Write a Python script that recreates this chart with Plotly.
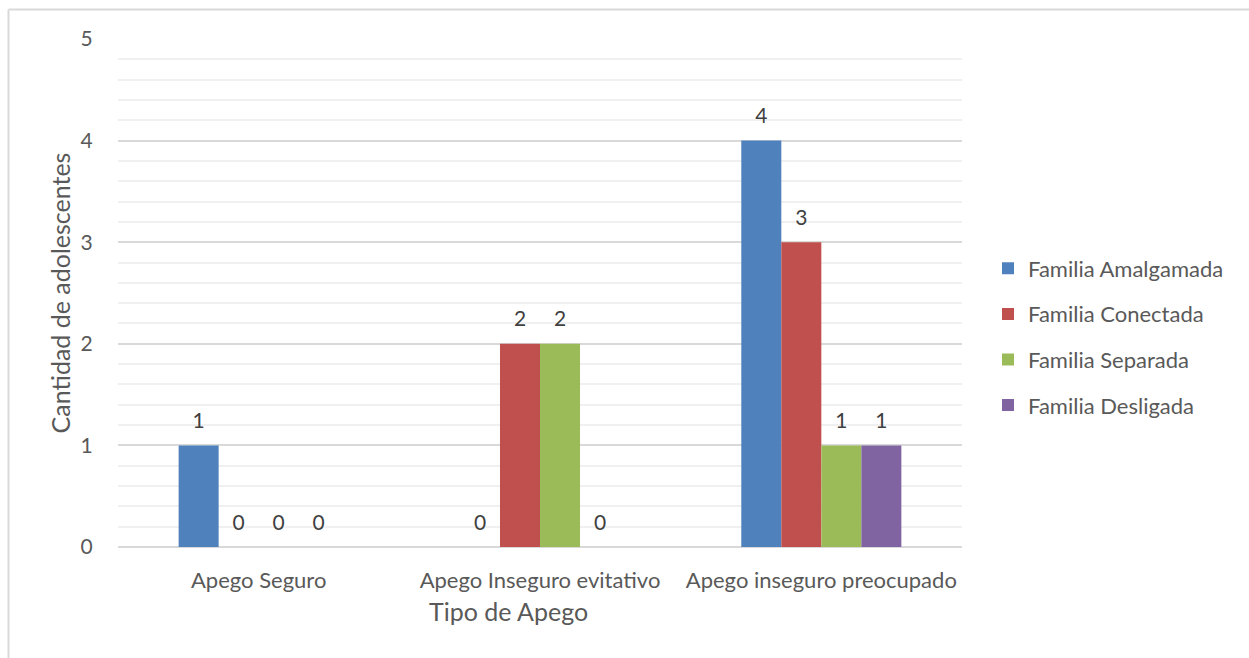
import plotly.graph_objects as go

categories = ["Apego Seguro", "Apego Inseguro evitativo", "Apego inseguro preocupado"]
series_names = ["Familia Amalgamada", "Familia Conectada", "Familia Separada", "Familia Desligada"]
amalgamada = [1, 0, 4]
conectada = [0, 2, 3]
separada = [0, 2, 1]
desligada = [0, 0, 1]
series_values = [amalgamada, conectada, separada, desligada]
colors = ["#4F81BD", "#C0504D", "#9BBB59", "#8064A2"]

FONT = "Lato, 'Open Sans', sans-serif"
W, H = 1249, 658
L, R, T, B = 118, 287, 39, 111
pw, ph = W - L - R, H - T - B

fig = go.Figure()
for i, (name, vals, col) in enumerate(zip(series_names, series_values, colors)):
    fig.add_trace(go.Bar(
        x=categories, y=vals, name=name, marker_color=col,
        marker_line_width=0, offsetgroup=str(i), legendgroup=str(i),
        hoverinfo="skip",
    ))
# value labels above each bar
for i, vals in enumerate(series_values):
    fig.add_trace(go.Scatter(
        x=categories, y=vals, mode="markers+text", text=[str(v) for v in vals],
        textposition="top center", offsetgroup=str(i), showlegend=False,
        marker=dict(size=18, color="rgba(0,0,0,0)"),
        textfont=dict(family=FONT, size=21, color="#404040"),
        cliponaxis=False, hoverinfo="skip",
    ))

def px_x(p):
    return (p - L) / pw

def px_y(p):
    return (H - B - p) / ph

fig.update_layout(
    width=W, height=H,
    margin=dict(l=L, r=R, t=T, b=B, autoexpand=False),
    paper_bgcolor="white", plot_bgcolor="white",
    barmode="group", bargap=0.431, bargroupgap=0,
    scattermode="group", scattergap=0.431,
    font=dict(family=FONT, color="#595959"),
    legend=dict(
        x=px_x(988), y=px_y(337), xanchor="left", yanchor="middle",
        font=dict(family=FONT, size=22, color="#595959"),
        traceorder="grouped", tracegroupgap=14, itemwidth=30,
        bgcolor="rgba(0,0,0,0)",
    ),
    xaxis=dict(
        showgrid=False, showline=False, zeroline=False,
        ticks="outside", ticklen=14, tickcolor="rgba(0,0,0,0)",
        tickfont=dict(family=FONT, size=22, color="#595959"),
    ),
    yaxis=dict(
        range=[0, 5], dtick=1, showgrid=True, gridcolor="#D9D9D9", gridwidth=1.5,
        zeroline=True, zerolinecolor="#D9D9D9", zerolinewidth=1.5, showline=False,
        minor=dict(dtick=0.2, showgrid=True, gridcolor="#F0F0F0", gridwidth=1.5),
        ticks="outside", ticklen=20, tickcolor="rgba(0,0,0,0)",
        tickfont=dict(family=FONT, size=21, color="#595959"),
        title=dict(text="Cantidad de adolescentes", standoff=2,
                   font=dict(family=FONT, size=25, color="#595959")),
    ),
    annotations=[dict(
        text="Tipo de Apego", x=px_x(508), y=px_y(611), xref="paper", yref="paper",
        showarrow=False, xanchor="center", yanchor="middle",
        font=dict(family=FONT, size=25, color="#595959"),
    )],
    shapes=[
        dict(type="line", xref="paper", yref="paper", x0=px_x(8.5), x1=px_x(W + 5),
             y0=px_y(9.5), y1=px_y(9.5), line=dict(color="#D9D9D9", width=2)),
        dict(type="line", xref="paper", yref="paper", x0=px_x(8.5), x1=px_x(8.5),
             y0=px_y(9.5), y1=px_y(H + 5), line=dict(color="#D9D9D9", width=2)),
    ],
)

fig.write_html("out.html")
